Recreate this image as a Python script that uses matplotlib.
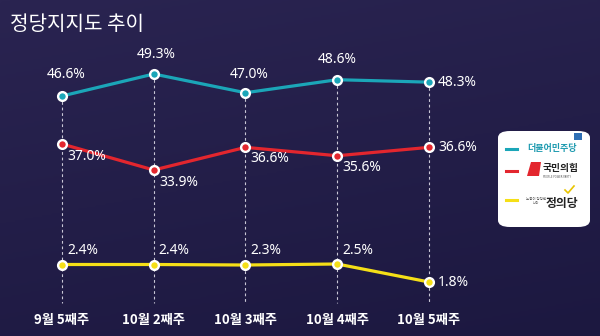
import numpy as np
import matplotlib
matplotlib.use("Agg")
import matplotlib.pyplot as plt
from matplotlib.patches import FancyBboxPatch, Polygon
from matplotlib.colors import LinearSegmentedColormap

plt.rcParams['font.family'] = ['Noto Sans CJK KR', 'DejaVu Sans']

title = "정당지지도 추이"
weeks = ["9월 5째주", "10월 2째주", "10월 3째주", "10월 4째주", "10월 5째주"]
minjoo = [46.6, 49.3, 47.0, 48.6, 48.3]
ppp = [37.0, 33.9, 36.6, 35.6, 36.6]
justice = [2.4, 2.4, 2.3, 2.5, 1.8]

BLUE = "#1ba6b8"
RED = "#e3262e"
YELLOW = "#f5df17"

# piecewise display scale (infographic style, clusters are spread apart)
kv = np.array([-5, 1.8, 2.3, 2.5, 33.9, 37.0, 46.6, 49.3, 60])
kp = -np.array([493.0, 282, 265, 264, 170, 144, 96, 74, -13])

def fwd(v):
    return np.interp(v, kv, kp)

def inv(d):
    return np.interp(d, kp, kv)

W, H = 600, 336
fig = plt.figure(figsize=(6, 3.36), dpi=100)

# background gradient
bg = fig.add_axes([0, 0, 1, 1])
bg.set_axis_off()
cmap = LinearSegmentedColormap.from_list("bg", ["#2a2451", "#1c1840"])
yy, xx = np.mgrid[0:1:200j, 0:1:200j]
grad = 0.75 * yy + 0.25 * xx
bg.imshow(grad, cmap=cmap, aspect='auto', extent=[0, 1, 0, 1], origin='upper')
bg.set_xlim(0, 1)
bg.set_ylim(0, 1)

ax = fig.add_axes([0, 0, 1, 1])
ax.patch.set_alpha(0)
ax.set_axis_off()
ax.set_yscale('function', functions=(fwd, inv))
x = np.arange(len(weeks))
x0, dx = 62, 91.75
ax.set_xlim(-x0 / dx, (W - x0) / dx)
ax.set_ylim(inv(-336), inv(0))

# dashed guides
for i in range(len(weeks)):
    ax.plot([x[i], x[i]], [minjoo[i], inv(-303)], ls=(0, (2.5, 2.5)), lw=0.8,
            color="#c9c7d6", zorder=1)

for vals, col in [(minjoo, BLUE), (ppp, RED), (justice, YELLOW)]:
    ax.plot(x, vals, color=col, lw=2.3, zorder=3, solid_capstyle='round')
    ax.plot(x, vals, ls='none', marker='o', ms=6.3, mfc=col, mec='white',
            mew=1.7, zorder=4)

tk = dict(color='white', fontsize=10, family=['Noto Sans', 'DejaVu Sans'])

def lab(xi, v, txt, dxp, dyp, ha='center', va='center'):
    ax.annotate(txt, (xi, v), xytext=(dxp, dyp), textcoords='offset pixels',
                ha=ha, va=va, zorder=5, **tk)

# minjoo labels
lab(x[0], minjoo[0], f"{minjoo[0]:.1f}%", 4, 22)
lab(x[1], minjoo[1], f"{minjoo[1]:.1f}%", 2, 19)
lab(x[2], minjoo[2], f"{minjoo[2]:.1f}%", 4, 18)
lab(x[3], minjoo[3], f"{minjoo[3]:.1f}%", 0, 20)
lab(x[4], minjoo[4], f"{minjoo[4]:.1f}%", 9, 0, ha='left')
# ppp labels
lab(x[0], ppp[0], f"{ppp[0]:.1f}%", 5, -13, ha='left')
lab(x[1], ppp[1], f"{ppp[1]:.1f}%", 6, -13, ha='left')
lab(x[2], ppp[2], f"{ppp[2]:.1f}%", 5, -11, ha='left')
lab(x[3], ppp[3], f"{ppp[3]:.1f}%", 5, -12, ha='left')
lab(x[4], ppp[4], f"{ppp[4]:.1f}%", 9, 0, ha='left')
# justice labels
for i in range(4):
    lab(x[i], justice[i], f"{justice[i]:.1f}%", 5, 14, ha='left')
lab(x[4], justice[4], f"{justice[4]:.1f}%", 9, 0, ha='left')

# x tick labels
for i, w in enumerate(weeks):
    ax.text(x[i], inv(-320), w, ha='center', va='center', color='white',
            fontsize=9.5, fontweight='bold')

fig.text(10 / W, 1 - 25 / H, title, color='white', fontsize=14.5,
         fontweight='medium', ha='left', va='center')

# legend box
def fx(px):
    return px / W

def fy(py):
    return 1 - py / H

box = FancyBboxPatch((fx(498), fy(227)), fx(590) - fx(498), fy(131) - fy(227),
                     boxstyle="round,pad=0,rounding_size=0.02",
                     transform=fig.transFigure, facecolor='white',
                     edgecolor='none', zorder=10)
fig.patches.append(box)
for py, col in [(149, BLUE), (171, RED), (200, YELLOW)]:
    fig.add_artist(plt.Line2D([fx(506), fx(517)], [fy(py), fy(py)],
                              color=col, lw=2.2, transform=fig.transFigure,
                              zorder=11))
fig.text(fx(527), fy(149), "더불어민주당", color="#1f9bb0", fontsize=6.5,
         fontweight='bold', ha='left', va='center', zorder=12)
fig.patches.append(Polygon([[fx(574), fy(133)], [fx(582), fy(133)],
                            [fx(582), fy(140)], [fx(574), fy(140)]],
                           closed=True, transform=fig.transFigure,
                           facecolor="#2f6fb5", zorder=12))
fig.patches.append(Polygon([[fx(531), fy(162)], [fx(541), fy(162)],
                            [fx(539), fy(176)], [fx(527), fy(176)]],
                           closed=True, transform=fig.transFigure,
                           facecolor=RED, zorder=12))
fig.text(fx(543), fy(168), "국민의힘", color="#222222", fontsize=7,
         fontweight='bold', ha='left', va='center', zorder=12)
fig.text(fx(543), fy(177), "PEOPLE POWER PARTY", color="#555555",
         fontsize=1.8, ha='left', va='center', zorder=12,
         family=['DejaVu Sans'])
fig.text(fx(536), fy(201), "노동이 당당한\n나라", color="#555555", fontsize=2.5,
         ha='center', va='center', zorder=12, linespacing=1.0)
fig.text(fx(546), fy(203), "정의당", color="#222222", fontsize=8.5,
         fontweight='bold', ha='left', va='center', zorder=12)
fig.add_artist(plt.Line2D([fx(565), fx(568), fx(574)],
                          [fy(190), fy(193), fy(186)], color="#e8c400",
                          lw=1.2, transform=fig.transFigure, zorder=13))

fig.savefig("out.png", dpi=100)
